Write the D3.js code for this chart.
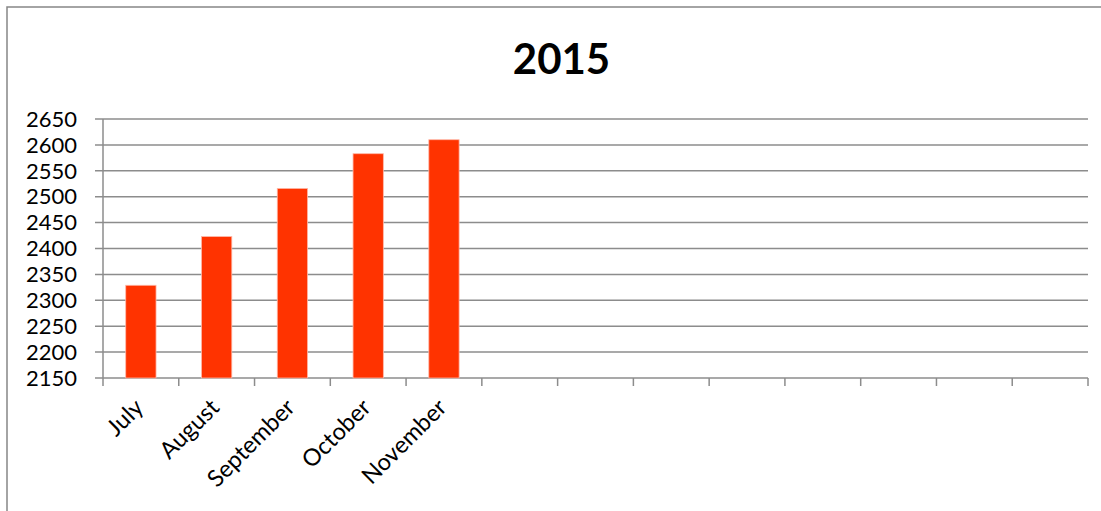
<!DOCTYPE html>
<html><head><meta charset="utf-8">
<script src="https://cdn.jsdelivr.net/npm/d3@7"></script>
<style>
html,body{margin:0;padding:0;background:#fff;overflow:hidden}
svg{display:block}
text{font-family:Lato,"Open Sans",sans-serif}
</style></head>
<body>
<svg id="c" width="1101" height="511"></svg>
<script>
const title = "2015";
const categories = ["July","August","September","October","November","c6","c7","c8","c9","c10","c11","c12","c13"];
const categoryLabels = ["July","August","September","October","November","","","","","","","",""];
const values = [2329, 2423, 2516, 2583, 2610];
const yTicks = [2150,2200,2250,2300,2350,2400,2450,2500,2550,2600,2650];

const svg = d3.select("#c");
const W = 1101, H = 511;
const m = {left:103, right:13, top:119, bottom:133};

// outer border
svg.append("rect").attr("x",7).attr("y",7).attr("width",W+20).attr("height",H+20)
  .attr("fill","#fff").attr("stroke","#868686").attr("stroke-width",1.5);

const x = d3.scaleBand().domain(categories).range([m.left, W-m.right]).paddingInner(0).paddingOuter(0);
const y = d3.scaleLinear().domain([2150,2650]).range([H-m.bottom, m.top]);

// gridlines
svg.append("g").selectAll("line").data(yTicks).join("line")
  .attr("x1", m.left-8).attr("x2", W-m.right)
  .attr("y1", d=>y(d)).attr("y2", d=>y(d))
  .attr("stroke","#8c8c8c").attr("stroke-width",1.5);

// y axis line
svg.append("line").attr("x1",m.left).attr("x2",m.left).attr("y1",m.top).attr("y2",H-m.bottom+8)
  .attr("stroke","#8c8c8c").attr("stroke-width",1.5);

// x category ticks
const bounds = categories.map(c=>x(c)+x.bandwidth());
svg.append("g").selectAll("line").data(bounds).join("line")
  .attr("x1",d=>d).attr("x2",d=>d).attr("y1",H-m.bottom).attr("y2",H-m.bottom+8)
  .attr("stroke","#8c8c8c").attr("stroke-width",1.5);

// y labels
svg.append("g").selectAll("text").data(yTicks).join("text")
  .attr("x",77).attr("y",d=>y(d)).attr("dy","0.35em")
  .attr("text-anchor","end").attr("font-size",22).attr("fill","#000")
  .text(d=>d);

// bars
const bw = x.bandwidth()*0.4;
svg.append("g").selectAll("rect").data(values).join("rect")
  .attr("x",(d,i)=>x(categories[i])+x.bandwidth()/2-bw/2)
  .attr("width",bw)
  .attr("y",d=>y(d))
  .attr("height",d=>y(2150)-y(d))
  .attr("fill","#ff3300").attr("stroke","#ffb8a8").attr("stroke-width",0.8);

// x labels
svg.append("g").selectAll("text").data(categoryLabels).join("text")
  .attr("transform",(d,i)=>`translate(${x(categories[i])+x.bandwidth()/2+4},${H-m.bottom+31}) rotate(-45)`)
  .attr("text-anchor","end").attr("font-size",23.5).attr("fill","#000")
  .text(d=>d);

// title
svg.append("text").attr("x",561.5).attr("y",74).attr("text-anchor","middle")
  .attr("font-size",42).attr("font-weight","bold").attr("fill","#000").text(title);
</script>
</body></html>
